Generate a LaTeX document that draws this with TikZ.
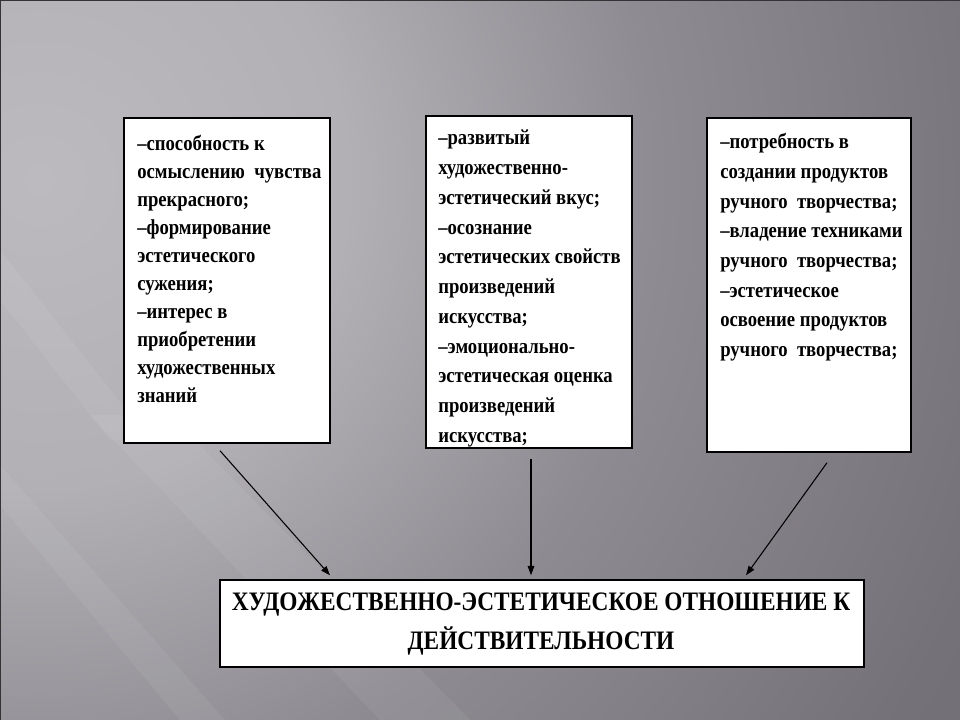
\documentclass[tikz,border=0pt]{standalone}
\usepackage{fontspec}
\setmainfont{Liberation Serif}
\newfontfamily\condfont[FakeStretch=0.875]{Liberation Serif}
\usetikzlibrary{arrows.meta,fit,calc}
\definecolor{c0}{HTML}{BCBABF}
\definecolor{c1}{HTML}{B2B0B5}
\definecolor{c2}{HTML}{8E8C92}
\definecolor{c3}{HTML}{747278}
\definecolor{c4}{HTML}{646268}
\definecolor{c5}{HTML}{58565C}
\pgfdeclareradialshading{bgshade}{\pgfpoint{0bp}{0bp}}{color(0bp)=(c0); color(7bp)=(c1); color(14bp)=(c2); color(23bp)=(c3); color(36bp)=(c4); color(50bp)=(c5); color(75bp)=(c5)}
\tikzset{
  box/.style={draw=black, line width=1.1pt, fill=white, inner sep=0pt},
  txt/.style={anchor=north west, inner sep=0pt, align=left, font=\condfont\bfseries\fontsize{16}{21}\selectfont},
  txtb/.style={txt, font=\condfont\bfseries\fontsize{16}{22.3}\selectfont},
  arr/.style={draw=black, line width=0.8pt, -{Triangle[length=7pt,width=5pt]}},
  streak/.style={fill=white, draw=none, opacity=0.06}
}
\begin{document}
\begin{tikzpicture}[x=0.75pt,y=-0.75pt]
\useasboundingbox (0,0) rectangle (960,720);
\begin{scope}
\clip (0,0) rectangle (960,720);
\shade[shading=bgshade] (-1060,-920) rectangle (1140,1280);
\fill[streak] (0,465) -- (0,505) -- (180,720) -- (225,720) -- cycle;
\fill[streak] (90,415) -- (170,415) -- (470,720) -- (380,720) -- cycle;
\fill[streak] (0,250) -- (0,300) -- (110,440) -- (150,440) -- cycle;
\end{scope}
\draw[black!80, line width=0.75pt] (0.5,720) -- (0.5,0.5) -- (960,0.5);

\node[box, fit={(124,118) (330,443)}] (b1) {};
\node[box, fit={(426,116) (632,448)}] (b2) {};
\node[box, fit={(707,118) (911,452)}] (b3) {};
\node[box, fit={(220,580) (864,667)}] (t) {};

\node[txt] (t1) at (137,135) {–способность к\\осмыслению\ \ чувства\\прекрасного;\\–формирование\\эстетического\\сужения;\\–интерес в\\приобретении\\художественных\\знаний};
\node[txtb] (t2) at (438,130) {–развитый\\художественно-\\эстетический вкус;\\–осознание\\эстетических свойств\\произведений\\искусства;\\–эмоционально-\\эстетическая оценка\\произведений\\искусства;};
\node[txtb] (t3) at (720,133) {–потребность в\\создании продуктов\\ручного\ \ творчества;\\–владение техниками\\ручного\ \ творчества;\\–эстетическое\\освоение продуктов\\ручного\ \ творчества;};

\node[align=center, inner sep=0pt, anchor=north, font=\condfont\bfseries\fontsize{20}{29}\selectfont] (tt) at (541,593) {ХУДОЖЕСТВЕННО-ЭСТЕТИЧЕСКОЕ ОТНОШЕНИЕ К\\ДЕЙСТВИТЕЛЬНОСТИ};

\draw[arr] ([shift={(-7,7)}]b1.south) -- ([shift={(-212,-4)}]t.north);
\draw[arr] ([shift={(2,10)}]b2.south) -- ([shift={(-11,-4)}]t.north);
\draw[arr] ([shift={(18,10)}]b3.south) -- ([shift={(204,-4)}]t.north);
\end{tikzpicture}
\end{document}
